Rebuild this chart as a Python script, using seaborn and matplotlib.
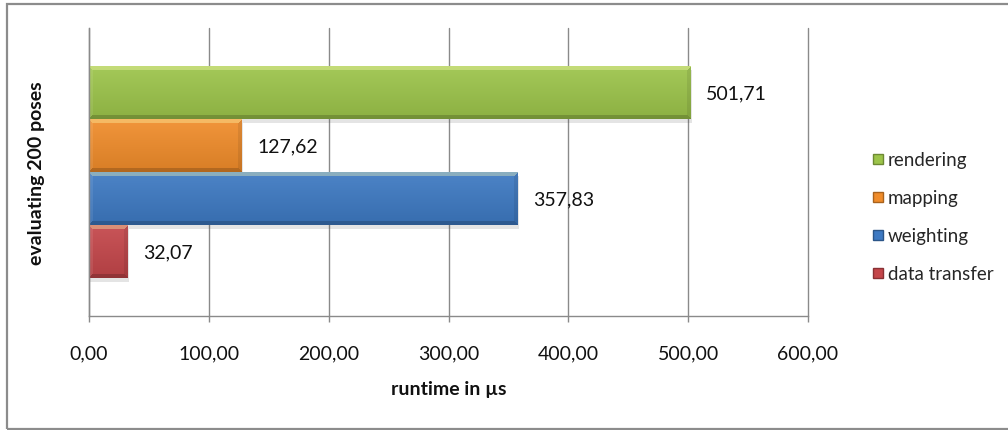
import numpy as np
import pandas as pd
import matplotlib
matplotlib.use("Agg")
import matplotlib.pyplot as plt
import matplotlib.patheffects as pe
from matplotlib.colors import to_rgb
from matplotlib.lines import Line2D
from matplotlib.patches import Rectangle
from matplotlib.ticker import FuncFormatter
import seaborn as sns

# Runtime breakdown for one evaluation run
case = ["evaluating 200 poses"]
components = ["rendering", "mapping", "weighting", "data transfer"]
runtimes = [501.71, 127.62, 357.83, 32.07]
colors = ["#9CC44A", "#F08C2A", "#3D79C2", "#C4464A"]
x_ticks = [0, 100, 200, 300, 400, 500, 600]

sns.set_theme(style="white")
plt.rcParams["font.family"] = ["Lato", "DejaVu Sans"]

W, H = 1008, 431
fig = plt.figure(figsize=(W / 100, H / 100), dpi=100)
ax = fig.add_axes([89 / W, 1 - 317 / H, (808 - 89) / W, (317 - 29) / H])

df = pd.DataFrame({
    "case": case * len(components),
    "component": components,
    "runtime": runtimes,
})

sns.barplot(data=df, x="runtime", y="case", hue="component",
            hue_order=components, palette=colors, orient="h",
            width=0.736, errorbar=None, legend=False, ax=ax,
            linewidth=0, saturation=1)

ax.set_xlim(x_ticks[0], x_ticks[-1])
ax.set_ylim(0.5, -0.5)


def comma(v, _=None):
    return f"{v:.2f}".replace(".", ",")


def mix(c, other, t):
    c = np.asarray(c)
    return c * (1 - t) + np.asarray(other) * t


def bevel_image(rgb, wpx, hpx, b=4.0):
    """Bevelled fill: lit top edge, shaded bottom edge, soft ends."""
    wpx = max(int(round(wpx)), 2)
    hpx = max(int(round(hpx)), 2)
    yy, xx = np.mgrid[0:hpx, 0:wpx] + 0.5
    t = (yy / hpx)[..., None]
    top = mix(rgb, (1, 1, 1), 0.08)
    bot = mix(rgb, (0, 0, 0), 0.10)
    img = top * (1 - t) + bot * t
    d_top, d_bot = yy, hpx - yy
    d_left, d_right = xx, wpx - xx
    dmin = np.minimum.reduce([d_top, d_bot, d_left, d_right])
    band = dmin < b
    m_top = band & (d_top == dmin)
    m_bot = band & (d_bot == dmin) & ~m_top
    m_left = band & (d_left == dmin) & ~m_top & ~m_bot
    m_right = band & (d_right == dmin) & ~m_top & ~m_bot & ~m_left
    img[m_top] = mix(img[m_top], (1, 1, 0.7), 0.35)
    img[m_bot] = mix(img[m_bot], (0, 0, 0), 0.18)
    img[m_left] = mix(img[m_left], (1, 1, 1), 0.08)
    img[m_right] = mix(img[m_right], (0, 0, 0), 0.08)
    return np.clip(img, 0, 1)


# Replace flat fills with bevelled gradients and a soft drop shadow
for patch in list(ax.patches):
    x0, y0 = patch.get_x(), patch.get_y()
    w, h = patch.get_width(), patch.get_height()
    (px0, py0), (px1, py1) = ax.transData.transform([(x0, y0), (x0 + w, y0 + h)])
    rgb = to_rgb(patch.get_facecolor())
    img = bevel_image(rgb, abs(px1 - px0), abs(py1 - py0))
    patch.set_path_effects([pe.SimplePatchShadow(offset=(1.0, -3), alpha=0.15,
                                                 shadow_rgbFace=(0.3, 0.3, 0.3)),
                            pe.Normal()])
    ax.imshow(img, extent=(x0, x0 + w, y0 + h, y0), aspect="auto",
              interpolation="nearest", zorder=patch.get_zorder() + 0.1)

ax.set_xlim(x_ticks[0], x_ticks[-1])
ax.set_ylim(0.5, -0.5)
ax.set_aspect("auto")

for container in ax.containers:
    ax.bar_label(container, labels=[comma(b.get_width()) for b in container],
                 padding=11, fontsize=14, color="#111111")

grid_c = "#8a8a8a"
ax.set_xticks(x_ticks)
ax.xaxis.set_major_formatter(FuncFormatter(comma))
ax.grid(axis="x", color=grid_c, linewidth=1.0)
for line in ax.get_xgridlines():
    line.set_clip_on(False)
ax.set_axisbelow(True)
for side in ("top", "right"):
    ax.spines[side].set_visible(False)
for side in ("left", "bottom"):
    ax.spines[side].set_color(grid_c)
    ax.spines[side].set_linewidth(1.0)
ax.tick_params(axis="x", bottom=True, length=4.5, width=1.0, color=grid_c,
               pad=16, labelsize=14, labelcolor="#111111")
ax.tick_params(axis="y", left=False, labelleft=False)

ax.set_xlabel("runtime in µs", fontsize=14, fontweight="bold", labelpad=13,
              color="#111111")
ax.set_ylabel(case[0], fontsize=14, fontweight="bold", labelpad=32,
              color="#111111")

handles = [Line2D([], [], linestyle="none", marker="s", markersize=7,
                  markerfacecolor=c, markeredgecolor=mix(to_rgb(c), (0, 0, 0), 0.3))
           for c in colors]
fig.legend(handles, components, loc="center left",
           bbox_to_anchor=(862 / W, 1 - 218 / H), frameon=False,
           fontsize=13.5, labelspacing=1.12, handlelength=0.7,
           handletextpad=0.18, borderpad=0)

# Chart-area frame
fig.add_artist(Rectangle((7 / W, 1 - 430 / H), 1.2, (430 - 5) / H,
                         transform=fig.transFigure, fill=False,
                         edgecolor="#8c8c8c", linewidth=1.6))

fig.savefig("out.png", dpi=100)
